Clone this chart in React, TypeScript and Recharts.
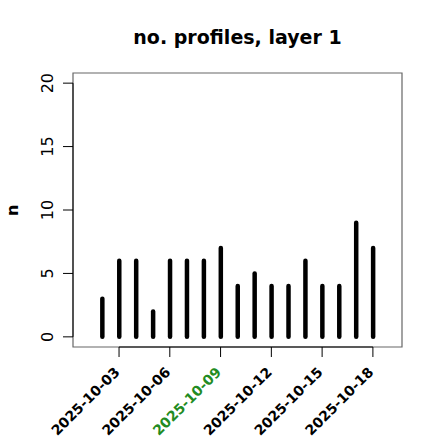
import {
  ComposedChart,
  Bar,
  XAxis,
  YAxis,
  ReferenceArea,
  ReferenceLine,
} from "recharts";

const DATES = [
  "2025-10-02", "2025-10-03", "2025-10-04", "2025-10-05", "2025-10-06",
  "2025-10-07", "2025-10-08", "2025-10-09", "2025-10-10", "2025-10-11",
  "2025-10-12", "2025-10-13", "2025-10-14", "2025-10-15", "2025-10-16",
  "2025-10-17", "2025-10-18",
];
const COUNTS = [3, 6, 6, 2, 6, 6, 6, 7, 4, 5, 4, 4, 6, 4, 4, 9, 7];

const X_TICK_DATES = [
  "2025-10-03", "2025-10-06", "2025-10-09", "2025-10-12", "2025-10-15", "2025-10-18",
];
const Y_TICKS = [0, 5, 10, 15, 20];
const HIGHLIGHT_DATE = "2025-10-09";

const dayOf = (d: string) => Number(d.slice(8));

const data = DATES.map((d, i) => ({ day: dayOf(d), date: d, n: COUNTS[i] }));
const xTicks = X_TICK_DATES.map(dayOf);

// R-style padding: xlim 10-01..10-19 plus 4%, ylim 0..20 plus 4%
const X_DOMAIN: [number, number] = [1 - 0.72, 19 + 0.72];
const Y_DOMAIN: [number, number] = [-0.8, 20.8];

const FONT = "'DejaVu Sans', sans-serif";

const SpikeShape = (props: any) => {
  const { x, y, width, height } = props;
  const cx = x + width / 2 + 0.7;
  return (
    <line
      x1={cx}
      x2={cx}
      y1={y}
      y2={y + height}
      stroke="#000"
      strokeWidth={4.5}
      strokeLinecap="round"
    />
  );
};

const XTick = (props: any) => {
  const { x, y, payload } = props;
  const label = `2025-10-${String(payload.value).padStart(2, "0")}`;
  const px = x + 1.5;
  const py = y + 14;
  return (
    <text
      x={px}
      y={py}
      transform={`rotate(-45, ${px}, ${py})`}
      textAnchor="end"
      fontFamily={FONT}
      fontWeight="bold"
      fontSize={14}
      fill={label === HIGHLIGHT_DATE ? "#228B22" : "#000"}
    >
      {label}
    </text>
  );
};

const YTick = (props: any) => {
  const { x, y, payload } = props;
  const px = x - 8.3;
  return (
    <text
      x={px}
      y={y}
      transform={`rotate(-90, ${px}, ${y})`}
      textAnchor="middle"
      fontFamily={FONT}
      fontSize={16}
      fill="#000"
    >
      {payload.value}
    </text>
  );
};

export default function App() {
  return (
    <div
      style={{
        position: "absolute",
        left: 0,
        top: 0,
        width: 440,
        height: 440,
        background: "#fff",
      }}
    >
      <ComposedChart
        width={440}
        height={440}
        data={data}
        margin={{ top: 73, right: 38, bottom: 0, left: 0 }}
      >
        <XAxis
          dataKey="day"
          type="number"
          domain={X_DOMAIN}
          ticks={xTicks}
          allowDataOverflow
          height={93}
          axisLine={false}
          tickSize={10}
          tickLine={{ stroke: "#000" }}
          tick={<XTick />}
          interval={0}
        />
        <YAxis
          type="number"
          domain={Y_DOMAIN}
          ticks={Y_TICKS}
          allowDataOverflow
          width={73}
          axisLine={false}
          tickSize={10}
          tickLine={{ stroke: "#000" }}
          tick={<YTick />}
          interval={0}
        />
        <ReferenceArea
          x1={X_DOMAIN[0]}
          x2={X_DOMAIN[1]}
          y1={Y_DOMAIN[0]}
          y2={Y_DOMAIN[1]}
          fill="none"
          stroke="#666"
          strokeWidth={1.2}
          ifOverflow="visible"
        />
        <ReferenceLine
          segment={[
            { x: X_DOMAIN[0], y: 0 },
            { x: X_DOMAIN[0], y: 20 },
          ]}
          stroke="#000"
          ifOverflow="visible"
        />
        <ReferenceLine
          segment={[
            { x: xTicks[0], y: Y_DOMAIN[0] },
            { x: xTicks[xTicks.length - 1], y: Y_DOMAIN[0] },
          ]}
          stroke="#000"
          ifOverflow="visible"
        />
        <Bar
          dataKey="n"
          barSize={4}
          shape={<SpikeShape />}
          isAnimationActive={false}
        />
      </ComposedChart>
      <svg
        width={440}
        height={440}
        style={{ position: "absolute", left: 0, top: 0, pointerEvents: "none" }}
      >
        <text
          x={237.5}
          y={43.5}
          textAnchor="middle"
          fontFamily={FONT}
          fontWeight="bold"
          fontSize={19}
          fill="#000"
        >
          no. profiles, layer 1
        </text>
        <text
          x={18.5}
          y={210.3}
          transform="rotate(-90, 18.5, 210.3)"
          textAnchor="middle"
          fontFamily={FONT}
          fontWeight="bold"
          fontSize={16}
          fill="#000"
        >
          n
        </text>
      </svg>
    </div>
  );
}
